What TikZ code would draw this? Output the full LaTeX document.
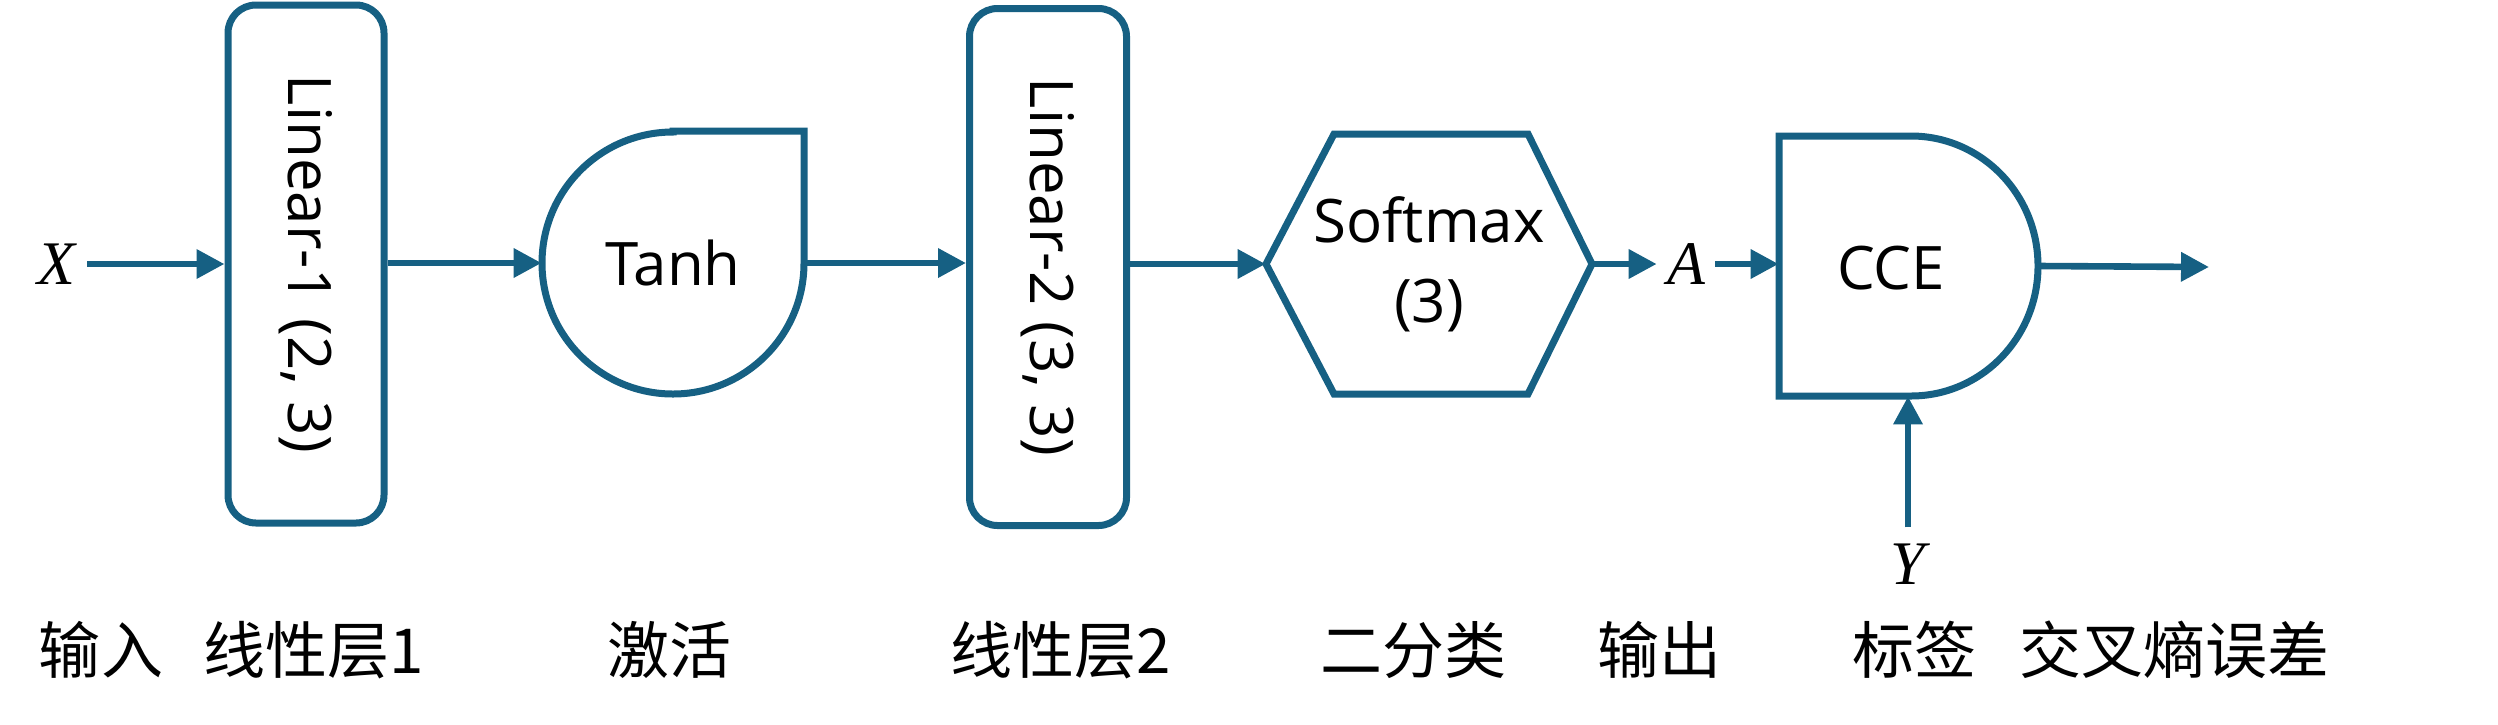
\documentclass[tikz,border=0pt]{standalone}
\usepackage{fontspec}
\usepackage{graphicx}
\setmainfont{Open Sans}
\newfontfamily\cjk{Noto Sans CJK SC}
\newfontfamily\tms{Liberation Serif}
\usetikzlibrary{arrows.meta,calc}
\definecolor{dblue}{HTML}{166083}
\tikzset{
  outl/.style={draw=dblue, line width=3.5pt},
  lin/.style={outl, rounded corners=14pt, minimum width=78pt, minimum height=259pt, inner sep=0pt, font=\fontsize{30}{36}\selectfont},
  ghost/.style={inner sep=0pt},
  conn/.style={draw=dblue, line width=3.3pt, -{Triangle[length=14pt,width=14pt]}},
  lbl/.style={font=\cjk\fontsize{31}{36}\selectfont, inner sep=0pt},
  var/.style={font=\tms\itshape\fontsize{31}{36}\selectfont},
  txt/.style={font=\fontsize{30}{40}\selectfont, align=center},
}
\begin{document}
\begin{tikzpicture}[x=0.5pt,y=-0.5pt]
\useasboundingbox (0,0) rectangle (2498,724);

% Linear boxes
\node[lin] (lin1) at (306,264) {\rotatebox{-90}{Linear-1 (2, 3)}};
\node[lin, minimum width=78.5pt, minimum height=258.5pt] (lin2) at (1048,267) {\rotatebox{-90}{Linear-2 (3, 3)}};

% Tanh shape
\node[ghost, minimum width=131pt, minimum height=132pt, txt] (tanh) at (673,263) {Tanh};
\draw[outl] (673,131) -- (804,131) -- (804,263)
  arc[start angle=0, end angle=-270, radius=65.5pt] -- cycle;

% Softmax hexagon
\node[ghost, minimum width=163pt, minimum height=130pt, txt] (smx) at (1429,264) {Softmax\\(3)};
\draw[outl, line join=miter] (1266,264) -- (1334,134) -- (1528,134) -- (1592,264)
  -- (1528,394) -- (1334,394) -- cycle;

% CCE shape
\node[ghost, minimum width=129.5pt, minimum height=130pt] (cce) at (1908.5,266) {};
\node[txt] (ccetext) at (1891,268) {CCE};
\draw[outl] (1779,136) -- (1911,136)
  arc[start angle=90, end angle=-90, x radius=63.5pt, y radius=65pt]
  -- (1779,396) -- cycle;
\coordinate (outend) at (2209,267);

% variables
\node[var, inner sep=6pt] (xlab) at (56,264) {X};
\node[var, inner xsep=5pt] (alab) at (1686,264) {A};
\node[var, inner sep=8pt] (ylab) at (1908,564) {Y};

% connectors
\draw[conn] (xlab.east) -- (xlab.east -| lin1.west);
\draw[conn] (lin1.east |- tanh.west) -- (tanh.west);
\draw[conn] (tanh.east) -- (tanh.east -| lin2.west);
\draw[conn] (lin2.east |- smx.west) -- (smx.west);
\draw[conn] (smx.east) -- (alab.west);
\draw[conn] (alab.east) -- (alab.east -| cce.west);
\draw[conn] (cce.east) -- (outend);
\draw[conn] (ylab.north) -- (ylab.north |- cce.south);

% bottom labels
\node[lbl] (l1) at (101,650) {输入};
\node[lbl] (l2) at (314,650) {线性层1};
\node[lbl] (l3) at (669,650) {激活};
\node[lbl] (l4) at (1061,650) {线性层2};
\node[lbl] (l5) at (1413,650) {二分类};
\node[lbl] (l6) at (1659,650) {输出};
\node[lbl] (l7) at (1914,650) {标签};
\node[lbl] (l8) at (2174,650) {交叉熵误差};
\end{tikzpicture}
\end{document}
